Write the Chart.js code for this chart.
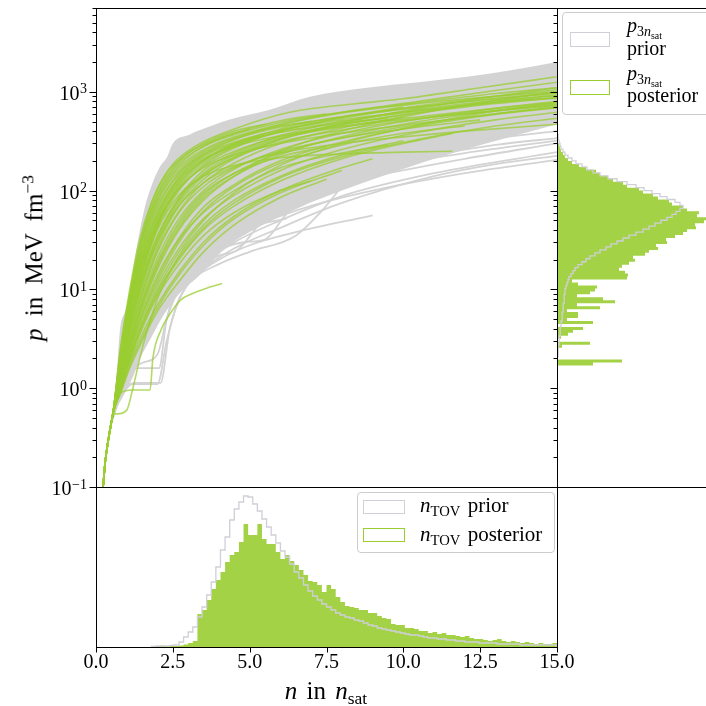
<!DOCTYPE html>
<html lang="en">
<head>
<meta charset="UTF-8">
<title>EOS prior and posterior</title>
<script src="https://cdn.jsdelivr.net/npm/chart.js@4"></script>
<style>
  body { margin: 0; width: 706px; height: 706px; overflow: hidden; position: relative; background: #fff; font-family: "Liberation Serif", serif; color: #000; }
  canvas { position: absolute; left: 0; top: 0; }
  .lbl { position: absolute; white-space: nowrap; line-height: 1; }
  .lbl sub { font-size: 70%; vertical-align: baseline; position: relative; top: 0.3em; line-height: 0; }
  .legend { position: absolute; box-sizing: border-box; border: 1px solid #ccc; border-radius: 4px; background: rgba(255, 255, 255, 0.8); }
  .patch { position: absolute; box-sizing: border-box; border: 1.5px solid; background: #fff; }
</style>
</head>
<body>
<canvas id="eos" width="706" height="706"></canvas>
<canvas id="ntov" width="706" height="706"></canvas>
<canvas id="p3" width="706" height="706"></canvas>

<div class="lbl" style="left:33px; top:258px; font-size:25px; word-spacing:6px; transform:translate(-50%,-50%) rotate(-90deg);"><i>p</i> in MeV fm<sup style="font-size:70%">&minus;3</sup></div>
<div class="lbl" style="left:326px; top:678px; font-size:25px; word-spacing:3px; transform:translateX(-50%);"><i>n</i> in <i>n</i><sub>sat</sub></div>

<div class="legend" style="left:357px; top:492px; width:198px; height:61px;"></div>
<div class="patch" style="left:363px; top:500px; width:42px; height:14px; border-color:#d0d0d8;"></div>
<div class="patch" style="left:363px; top:528px; width:42px; height:14px; border-color:#9acd32;"></div>
<div class="lbl" style="left:420px; top:495px; font-size:21px; word-spacing:2px;"><i>n</i><sub>TOV</sub> prior</div>
<div class="lbl" style="left:420px; top:524px; font-size:21px; word-spacing:2px;"><i>n</i><sub>TOV</sub> posterior</div>

<div class="legend" style="left:562px; top:12px; width:160px; height:103px;"></div>
<div class="patch" style="left:570px; top:32px; width:40px; height:15px; border-color:#d0d0d8;"></div>
<div class="patch" style="left:570px; top:80px; width:40px; height:15px; border-color:#9acd32;"></div>
<div class="lbl" style="left:627px; top:15px; font-size:20px;"><i>p</i><sub>3<i>n</i><sub>sat</sub></sub></div>
<div class="lbl" style="left:627px; top:38px; font-size:20px;">prior</div>
<div class="lbl" style="left:627px; top:63px; font-size:20px;"><i>p</i><sub>3<i>n</i><sub>sat</sub></sub></div>
<div class="lbl" style="left:627px; top:85px; font-size:20px;">posterior</div>

<script>
// shared low-density part of every EOS (n in n_sat, p in MeV fm^-3)
const crustN = [0.23, 0.3, 0.4, 0.5];
const crustP = [0.1, 0.18, 0.3, 0.45];

// envelope of the dense bundle of prior EOS
const priorUpperN = [0.23, 0.3, 0.4, 0.55, 0.68, 0.78, 0.95, 1.1, 1.2, 1.43, 1.6, 1.76, 2.08, 2.31, 2.5, 3.06, 3.3, 4.36, 5.66, 6.96, 8.82, 10.5, 12.07, 13.5, 15];
const priorUpperP = [0.1, 0.2, 0.35, 0.62, 1.5, 3.9, 6, 8.4, 15, 40, 70, 102, 174, 218, 300, 370, 400, 525, 660, 890, 1100, 1250, 1420, 1650, 2000];
const priorLowerN = [0.23, 0.3, 0.4, 0.55, 0.9, 1.2, 1.5, 1.76, 2.2, 2.7, 3.38, 4.2, 5.0, 6.64, 8.0, 9.9, 12, 15];
const priorLowerP = [0.1, 0.18, 0.3, 0.5, 0.85, 1.3, 2.2, 3.1, 5.5, 9, 14, 26, 38, 68, 100, 162, 260, 470];

// individual prior EOS outside the dense bundle, flat [n, p, n, p, ...]
const priorCurves = [
  [0.55,0.5, 0.8,0.8, 1.2,1.1, 2.0,1.1, 2.3,3, 2.7,8, 3.3,14, 4,20, 5,28, 6.5,38, 8.5,52, 9,56],
  [0.55,0.5, 0.8,0.9, 1.4,1.13, 2.1,1.13, 2.4,4, 2.8,9, 3.5,16, 4.5,26, 6,42, 8,75, 11,140, 13,185, 15,225],
  [0.55,0.55, 0.9,1.2, 1.5,1.8, 2.0,2.2, 2.3,5, 2.7,10, 3.4,17, 4.5,30, 6,50, 8,88, 11,150, 15,245],
  [0.55,0.55, 0.8,1.0, 1.5,2.5, 2.2,6, 3.0,12, 4,18, 5,24, 6.5,35, 7.3,60, 8,110, 8.6,180, 9.3,280, 10,360, 12,480, 15,620],
  [0.55,0.55, 0.8,1.3, 1.2,3, 1.7,6, 2.2,10, 3,15, 4,22, 4.6,25, 5.3,45, 6,75, 7,110, 9,170, 11,230, 13,290, 15,340],
  [0.55,0.55, 0.8,1.4, 1.3,4, 1.8,9, 2.5,16, 3.5,28, 4.1,32, 4.5,60, 5,90, 6,130, 8,190, 10.5,260, 13,340, 15,400],
  [0.55,0.55, 0.8,1.6, 1.2,5, 1.6,12, 2.2,25, 3,40, 4,55, 5,70, 6,85, 7.5,110, 9.5,150, 12,210, 15,300],
  [0.55,0.55, 0.8,1.2, 1.3,2.8, 1.9,6.5, 2.6,13, 3.5,22, 4.2,38, 5,62, 6.5,100, 8,140, 10,190, 12,240, 15,320],
  [0.55,0.55, 0.8,1.1, 1.2,1.6, 2.05,1.6, 2.3,5, 2.7,11, 3.5,20, 4.5,33, 5.5,48, 7,70, 9,100, 12,150, 15,205],
  [0.55,0.55, 0.8,1.5, 1.3,4.5, 1.8,10, 2.5,20, 3.3,30, 4.3,38, 5.2,45, 6.2,52],
  [0.55,0.55, 0.8,1.3, 1.3,3.5, 2.0,8, 2.8,15, 3.6,22, 4.8,30, 5.5,32, 6.2,58, 7,90, 8,120]
];

// posterior EOS, flat [n, p, n, p, ...]
const posteriorCurves = [
  [0.55,0.55, 0.8,2.4, 1.1,9, 1.4,26, 1.7,60, 2.0,105, 2.5,185, 3.3,290, 4.5,420, 6.3,620, 8.5,760, 10,850, 12.5,1100, 15,1420],
  [0.55,0.55, 0.8,2.1, 1.1,7.5, 1.5,28, 2.0,80, 2.7,170, 3.5,260, 4.5,350, 6,470, 8,620, 10.5,800, 13,1030, 15,1250],
  [0.55,0.55, 0.8,1.9, 1.1,6.5, 1.5,22, 2.0,60, 2.7,140, 3.5,230, 4.5,330, 6,460, 8,610, 10.5,760, 13,900, 15,1000],
  [0.55,0.55, 0.8,1.7, 1.1,5.5, 1.5,18, 2.0,50, 2.7,120, 3.5,200, 4.5,290, 6,420, 8,560, 10,700],
  [0.55,0.55, 0.8,1.6, 1.1,5, 1.5,15, 2.0,42, 2.7,100, 3.5,180, 4.5,270, 6,400, 8,540, 10.5,700, 13,860, 15,980],
  [0.55,0.55, 0.8,1.5, 1.1,4.4, 1.5,13, 2.0,35, 2.7,85, 3.5,160, 4.5,240, 6,360, 8,500, 10.5,660, 13,820, 15,920],
  [0.55,0.55, 0.8,1.4, 1.1,3.8, 1.5,11, 2.0,30, 2.7,75, 3.5,140, 4.5,220, 6,330, 8,460, 10.5,620, 13,780, 15,880],
  [0.55,0.55, 0.8,1.3, 1.1,3.4, 1.5,9, 2.0,25, 2.7,62, 3.5,120, 4.5,190, 6,300, 8,430, 10,560],
  [0.55,0.55, 0.8,1.25, 1.1,3.0, 1.5,8, 2.0,21, 2.7,52, 3.5,100, 4.5,165, 6,260, 8,380, 10.5,530, 13,680, 15,800],
  [0.55,0.55, 0.8,1.2, 1.1,2.7, 1.5,7, 2.0,17, 2.7,42, 3.5,85, 4.5,140, 6,230, 8,350, 10.5,500, 13,640, 15,740],
  [0.55,0.55, 0.8,1.1, 1.1,2.4, 1.5,6, 2.0,14, 2.7,33, 3.5,68, 4.5,115, 6,200, 8,310, 10.5,450, 13,590, 15,690],
  [0.55,0.55, 0.8,1.05, 1.1,2.2, 1.5,5, 2.0,11, 2.7,26, 3.5,52, 4.5,90, 6,160, 8,260, 10.5,390, 13,520, 15,620],
  [0.55,0.55, 0.8,1.0, 1.1,2.0, 1.5,4.2, 2.0,9, 2.7,20, 3.5,40, 4.5,70, 6,125, 8,210, 10,300, 11.6,380],
  [0.55,0.55, 0.8,0.95, 1.1,1.8, 1.5,3.5, 2.0,7, 2.7,15, 3.5,30, 4.5,55, 6,100, 8,170, 9,210],
  [0.55,0.55, 0.8,0.9, 1.1,1.6, 1.5,3, 2.0,6, 2.7,12, 3.5,24, 4.5,45, 6,85, 7.5,130],
  [0.55,0.55, 0.7,0.55, 1.0,0.6, 1.2,1.0, 1.5,2.5, 2.0,8, 2.7,22, 3.5,45, 4.5,80, 6,140, 8,230, 10,320],
  [0.55,0.55, 0.8,0.9, 1.2,0.96, 1.76,0.96, 1.85,2, 2.1,3.8, 2.4,5.6, 2.75,7.8, 3.1,9, 3.6,10.3, 4.1,11.5],
  [0.55,0.55, 0.8,1.5, 1.1,4.5, 1.5,14, 2.0,40, 2.7,90, 3.5,140, 4.5,180, 6,215, 8,235, 10,245, 11.6,250],
  [0.55,0.55, 0.8,2.6, 1.1,10, 1.4,30, 1.8,75, 2.3,150, 3,240, 4,340, 5,420],
  [0.55,0.55, 0.8,2.2, 1.1,8, 1.5,30, 2.0,85, 2.7,180, 3.5,280, 4.5,380, 6,510, 7.5,600],
  [0.55,0.55, 0.8,1.8, 1.1,6, 1.5,20, 2.0,55, 2.7,130, 3.5,210, 4.5,280, 6,360, 8,450, 10.5,560, 13,680, 15,780],
  [0.55,0.55, 0.8,1.6, 1.1,5, 1.5,16, 2.0,44, 2.7,105, 3.5,170, 4.5,230, 6,300, 8,380, 10.5,480, 13,600, 15,700],
  [0.55,0.55, 0.8,1.35, 1.1,3.6, 1.5,10, 2.0,27, 2.7,70, 3.5,130, 4.5,210, 6,330, 8,480, 10.5,680, 13,900, 15,1100],
  [0.55,0.55, 0.8,1.15, 1.1,2.6, 1.5,6.5, 2.0,16, 2.7,40, 3.5,80, 4.5,140, 6,250, 8,400, 10.5,600, 13,820, 15,1000],
  [0.55,0.55, 0.8,1.0, 1.1,2.1, 1.5,4.6, 2.0,10, 2.7,24, 3.5,50, 4.5,95, 6,180, 8,300, 10.5,460, 13,640, 15,780],
  [0.55,0.55, 0.8,2.0, 1.1,7, 1.5,25, 2.0,70, 2.7,150, 3.5,240, 4.5,330, 6,440, 8,560, 10.5,700, 13,850, 15,960],
  [0.55,0.55, 0.8,1.45, 1.1,4.1, 1.5,12, 2.0,32, 2.7,80, 3.5,150, 4.5,230, 6,340, 8,440, 10.5,540, 13,640, 15,720],
  [0.55,0.55, 0.8,1.1, 1.1,2.5, 1.5,5.5, 2.0,12, 2.7,30, 3.5,62, 4.5,110, 6,190, 8,290, 10,380, 12,450],
  [0.55,0.55, 0.8,0.9, 1.1,1.7, 1.5,3.2, 2.0,6.5, 2.7,14, 3.5,28, 4.5,52, 6,95, 8,160],
  [0.55,0.55, 0.8,1.7, 1.1,5.8, 1.5,19, 2.0,48, 2.7,105, 3.5,175, 4.5,250, 6,350, 8,470, 10.5,610, 13,760, 15,870],
  [0.55,0.55, 0.8,2.3, 1.1,8.5, 1.5,32, 2.0,90, 2.7,190, 3.5,280, 4.5,370, 6,490, 8,620, 10.5,780, 13,960, 15,1100],
  [0.55,0.55, 0.8,1.9, 1.1,6.8, 1.5,23, 2.0,65, 2.7,150, 3.5,230, 4.5,310, 6,410, 8,520, 10.5,650, 13,800, 15,920],
  [0.55,0.55, 0.8,1.5, 1.1,4.6, 1.5,15, 2.0,45, 2.7,115, 3.5,200, 4.5,300, 5.5,380],
  [0.55,0.55, 0.8,1.25, 1.1,3.2, 1.5,9, 2.0,24, 2.7,60, 3.5,110, 4.5,170, 6,250, 8,340, 10.5,440, 12.5,520],
  [0.55,0.55, 0.8,1.05, 1.1,2.3, 1.5,5.5, 2.0,13, 2.7,32, 3.5,60, 4.5,100, 6,170, 8,240, 9.5,290],
  [0.55,0.55, 0.8,0.95, 1.1,1.9, 1.5,4, 2.0,8.5, 2.7,18, 3.5,35, 4.5,60, 6,100, 7,125],
  [0.55,0.55, 0.8,1.8, 1.1,6.2, 1.5,21, 2.0,58, 2.7,135, 3.5,220, 4.5,300, 6,390, 8,480, 9.5,540],
  [0.55,0.55, 0.8,2.0, 1.1,7.2, 1.5,26, 2.0,75, 2.7,160, 3.5,250, 4.5,340, 6,450, 7,500],
  [0.55,0.55, 0.8,1.35, 1.1,3.9, 1.5,11.5, 2.0,30, 2.7,70, 3.5,120, 4.5,175, 6,240, 8,300, 10,350, 12,400, 15,470],
  [0.55,0.55, 0.8,1.15, 1.1,2.8, 1.5,7, 2.0,18, 2.7,45, 3.5,90, 4.5,150, 6,240, 8,340, 10.5,470, 13,600, 15,700],
  [0.55,0.55, 0.8,1.6, 1.1,4.8, 1.5,16, 2.0,46, 2.7,110, 3.5,190, 4.5,280, 6,400, 8,550, 10.5,720, 13,900, 15,1050],
  [0.55,0.55, 0.8,2.4, 1.1,9, 1.5,34, 2.0,95, 2.7,200, 3.5,300, 4.5,400, 5.5,470],
  [0.55,0.55, 0.8,1.0, 1.1,2.0, 1.5,4.4, 2.0,9.5, 2.7,21, 3.5,42, 4.5,75, 6,135, 8,220, 10.5,330, 13,450, 15,540],
  [0.55,0.55, 0.8,1.2, 1.1,2.9, 1.5,7.5, 2.0,19, 2.7,48, 3.5,95, 4.5,150, 6,220, 7.5,280],
  [0.55,0.55, 0.8,1.7, 1.1,5.6, 1.5,18, 2.0,52, 2.7,125, 3.5,205, 4.5,290, 6,390, 8,500, 10.5,640, 13,780, 15,860],
  [0.55,0.55, 0.8,1.4, 1.1,4.2, 1.5,12.5, 2.0,34, 2.7,82, 3.5,145, 4.5,215, 6,310, 8,410, 10.5,530, 13,650, 15,750]
];

// n_TOV histograms: bins of width 0.15 starting at n = 1.8
const ntovBinStart = 1.8;
const ntovBinWidth = 0.15;
const ntovPrior = [
  5, 10, 10, 10, 15, 20, 50, 100, 150, 200,
  300, 400, 520, 650, 800, 970, 1100, 1270, 1380, 1450,
  1510, 1500, 1430, 1360, 1280, 1200, 1120, 1040, 960, 900,
  830, 750, 690, 620, 560, 510, 470, 430, 400, 370,
  340, 320, 300, 290, 270, 260, 240, 220, 210, 190,
  180, 170, 160, 150, 140, 130, 120, 120, 110, 100,
  90, 90, 80, 80, 70, 70, 60, 60, 50, 50,
  50, 40, 40, 40, 40, 30, 30, 30, 30, 30,
  20, 20, 20, 20, 20, 20, 20, 20
];
const ntovPosterior = [
  0, 10, 15, 10, 15, 10, 15, 25, 40, 60,
  330, 370, 470, 580, 670, 750, 850, 920, 950, 1050,
  1230, 1120, 1120, 1230, 1080, 1030, 1030, 950, 880, 920,
  860, 820, 770, 720, 660, 650, 620, 550, 620, 580,
  500, 450, 410, 400, 390, 370, 370, 340, 340, 310,
  290, 280, 230, 220, 220, 190, 190, 180, 160, 160,
  140, 150, 130, 140, 120, 120, 110, 100, 110, 90,
  80, 80, 70, 60, 70, 80, 60, 50, 60, 50,
  40, 50, 40, 30, 40, 30, 30, 40
];

// p(3 n_sat) histograms: bins of width 0.03 in log10 p starting at log10 p = 0.2
const p3LogStart = 0.2;
const p3LogWidth = 0.03;
const p3Prior = [
  0, 5, 5, 5, 10, 10, 10, 15, 20, 20,
  25, 30, 30, 35, 40, 40, 50, 50, 55, 60,
  60, 65, 70, 70, 75, 80, 80, 90, 100, 110,
  120, 140, 160, 180, 210, 250, 290, 330, 380, 430,
  490, 540, 600, 660, 720, 790, 860, 920, 980, 1040,
  1100, 1150, 1190, 1230, 1260, 1230, 1180, 1100, 1030, 950,
  870, 790, 700, 600, 510, 430, 360, 300, 250, 190,
  150, 110, 80, 60, 40, 30, 20, 15, 10, 5,
  5, 0
];
const p3Posterior = [
  0, 360, 650, 0, 0, 0, 0, 50, 330, 0,
  40, 110, 160, 260, 0, 360, 100, 210, 210, 100,
  430, 200, 580, 460, 200, 330, 380, 400, 210, 150,
  700, 710, 680, 620, 650, 720, 780, 760, 880, 920,
  1010, 990, 1100, 1090, 1180, 1260, 1300, 1390, 1380, 1470,
  1490, 1400, 1420, 1300, 1260, 1150, 1120, 1010, 960, 860,
  820, 700, 660, 560, 510, 430, 390, 290, 220, 150,
  110, 80, 60, 40, 30, 20, 10, 10, 0, 0,
  0, 0
];

const GRAY = '#d3d3d3';
const GREEN_LINE = 'rgba(154, 205, 50, 0.75)';
const GREEN_FILL = 'rgba(154, 205, 50, 0.9)';
const PRIOR_STEP = '#cfcfd7';
const FONT = '"Liberation Serif", serif';

function pairs(flat) {
  const pts = [];
  for (let i = 0; i < flat.length; i += 2) pts.push({ x: flat[i], y: flat[i + 1] });
  return pts;
}

function withCrust(flat) {
  return crustN.map((n, i) => ({ x: n, y: crustP[i] })).concat(pairs(flat));
}

function zip(xs, ys) {
  return xs.map((x, i) => ({ x, y: ys[i] }));
}

// outline of a histogram with bins along x, closed down to zero
function verticalSteps(start, width, counts) {
  const pts = [{ x: start, y: 0 }];
  counts.forEach((c, i) => {
    pts.push({ x: start + i * width, y: c }, { x: start + (i + 1) * width, y: c });
  });
  pts.push({ x: start + counts.length * width, y: 0 });
  return pts;
}

// outline of a histogram with log-spaced bins along y, closed back to x = 0
function horizontalSteps(logStart, logWidth, counts) {
  const pts = [{ x: 0, y: Math.pow(10, logStart) }];
  counts.forEach((c, i) => {
    pts.push({ x: c, y: Math.pow(10, logStart + i * logWidth) },
             { x: c, y: Math.pow(10, logStart + (i + 1) * logWidth) });
  });
  pts.push({ x: 0, y: Math.pow(10, logStart + counts.length * logWidth) });
  return pts;
}

// frame, tick marks and tick labels in matplotlib style
const decor = {
  id: 'decor',
  afterDraw(chart, args, o) {
    const { ctx, chartArea: a, scales } = chart;
    const L = Math.round(a.left) + 0.5, R = Math.round(a.right) + 0.5;
    const T = Math.round(a.top) + 0.5, B = Math.round(a.bottom) + 0.5;
    const sides = o.frame || [];
    ctx.save();
    ctx.strokeStyle = '#000';
    ctx.lineWidth = 1;
    ctx.beginPath();
    if (sides.includes('top')) { ctx.moveTo(L - 0.5, T); ctx.lineTo(R + 0.5, T); }
    if (sides.includes('bottom')) { ctx.moveTo(L - 0.5, B); ctx.lineTo(R + 0.5, B); }
    if (sides.includes('left')) { ctx.moveTo(L, T); ctx.lineTo(L, B); }
    if (sides.includes('right')) { ctx.moveTo(R, T); ctx.lineTo(R, B); }
    const y = scales.y;
    if (o.logTicks) {
      const k0 = Math.floor(Math.log10(y.min) + 1e-9), k1 = Math.floor(Math.log10(y.max));
      for (let k = k0; k <= k1; k++) {
        for (let m = 1; m <= 9; m++) {
          const v = m * Math.pow(10, k);
          if (v < y.min * 0.999 || v > y.max) continue;
          const py = Math.round(y.getPixelForValue(v)) + 0.5;
          ctx.moveTo(L, py);
          ctx.lineTo(L - (m === 1 ? 7 : 4), py);
        }
      }
    }
    const x = scales.x;
    if (o.xTicks) {
      for (const v of o.xTicks) {
        const px = Math.round(x.getPixelForValue(v)) + 0.5;
        ctx.moveTo(px, B);
        ctx.lineTo(px, B + 5);
      }
    }
    ctx.stroke();

    ctx.fillStyle = '#000';
    ctx.textBaseline = 'alphabetic';
    if (o.logTicks && o.logTicks.labels) {
      const k0 = Math.round(Math.log10(y.min)), k1 = Math.floor(Math.log10(y.max));
      for (let k = k0; k <= k1; k++) {
        const py = y.getPixelForValue(Math.pow(10, k));
        const exp = k < 0 ? '\u2212' + (-k) : String(k);
        const xr = a.left - 9;
        ctx.textAlign = 'right';
        ctx.font = '14px ' + FONT;
        const ew = ctx.measureText(exp).width;
        ctx.fillText(exp, xr, py + 1.5);
        ctx.font = '20px ' + FONT;
        ctx.fillText('10', xr - ew - 0.5, py + 8);
      }
    }
    if (o.xTicks && o.xLabels) {
      ctx.textAlign = 'center';
      ctx.font = '20px ' + FONT;
      for (const v of o.xTicks) {
        ctx.fillText(v.toFixed(1), x.getPixelForValue(v), a.bottom + 21);
      }
    }
    ctx.restore();
  }
};

const common = {
  responsive: false,
  animation: false,
  events: [],
  elements: { point: { radius: 0 } },
  plugins: { legend: { display: false }, tooltip: { enabled: false } }
};

// main panel: EOS curves
const eosDatasets = [
  { data: zip(priorUpperN, priorUpperP), borderWidth: 0, backgroundColor: GRAY, fill: '+1', cubicInterpolationMode: 'monotone', order: 3 },
  { data: zip(priorLowerN, priorLowerP), borderWidth: 0, fill: false, cubicInterpolationMode: 'monotone', order: 3 }
];
priorCurves.forEach(c => eosDatasets.push({
  data: withCrust(c), borderColor: GRAY, borderWidth: 1.8, fill: false,
  cubicInterpolationMode: 'monotone', order: 2
}));
posteriorCurves.forEach(c => eosDatasets.push({
  data: withCrust(c), borderColor: GREEN_LINE, borderWidth: 1.6, fill: false,
  cubicInterpolationMode: 'monotone', order: 1
}));

new Chart(document.getElementById('eos'), {
  type: 'line',
  data: { datasets: eosDatasets },
  options: {
    ...common,
    layout: { padding: { left: 96, top: 8, right: 149, bottom: 219 } },
    scales: {
      x: { type: 'linear', display: false, min: 0, max: 15 },
      y: { type: 'logarithmic', display: false, min: 0.1, max: 7050 }
    },
    plugins: { ...common.plugins, decor: { frame: ['top', 'left', 'bottom', 'right'], logTicks: { labels: true } } }
  },
  plugins: [decor]
});

// bottom panel: n_TOV histograms
new Chart(document.getElementById('ntov'), {
  type: 'line',
  data: {
    datasets: [
      { data: verticalSteps(ntovBinStart, ntovBinWidth, ntovPrior), borderColor: PRIOR_STEP, borderWidth: 1.3, fill: false, order: 0 },
      { data: verticalSteps(ntovBinStart, ntovBinWidth, ntovPosterior), borderWidth: 0, backgroundColor: GREEN_FILL, fill: 'shape', order: 1 }
    ]
  },
  options: {
    ...common,
    layout: { padding: { left: 96, top: 487, right: 149, bottom: 59 } },
    scales: {
      x: { type: 'linear', display: false, min: 0, max: 15 },
      y: { type: 'linear', display: false, min: 0, max: 1600 }
    },
    plugins: { ...common.plugins, decor: { frame: ['top', 'left', 'bottom', 'right'], xTicks: [0, 2.5, 5, 7.5, 10, 12.5, 15], xLabels: true } }
  },
  plugins: [decor]
});

// right panel: p(3 n_sat) histograms
new Chart(document.getElementById('p3'), {
  type: 'line',
  data: {
    datasets: [
      { data: horizontalSteps(p3LogStart, p3LogWidth, p3Prior), borderColor: PRIOR_STEP, borderWidth: 1.3, fill: false, order: 0 },
      { data: horizontalSteps(p3LogStart, p3LogWidth, p3Posterior), borderWidth: 0, backgroundColor: GREEN_FILL, fill: 'shape', order: 1 }
    ]
  },
  options: {
    ...common,
    layout: { padding: { left: 557, top: 8, right: 0, bottom: 219 } },
    scales: {
      x: { type: 'linear', display: false, min: 0, max: 1490 },
      y: { type: 'logarithmic', display: false, min: 0.1, max: 7050 }
    },
    plugins: { ...common.plugins, decor: { frame: ['top', 'left', 'bottom'], logTicks: { labels: false } } }
  },
  plugins: [decor]
});
</script>
</body>
</html>
